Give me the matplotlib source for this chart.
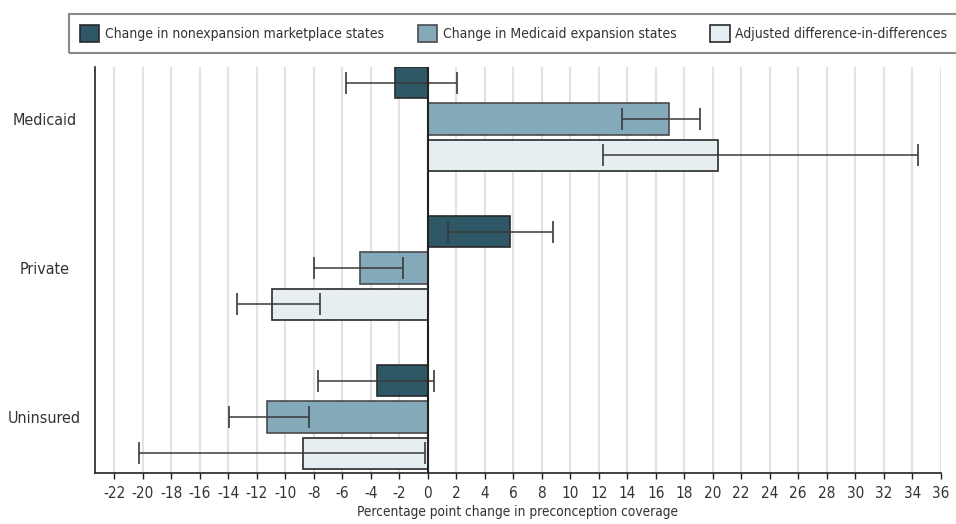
import matplotlib
matplotlib.use('Agg')
import matplotlib.pyplot as plt
from matplotlib import font_manager
from matplotlib.patches import Patch, Rectangle
import numpy as np

categories = ['Medicaid', 'Private', 'Uninsured']
series = ['Change in nonexpansion marketplace states',
          'Change in Medicaid expansion states',
          'Adjusted difference-in-differences']

nonexp = [-2.3, 5.75, -3.55]
nonexp_lo = [-5.7, 1.45, -7.7]
nonexp_hi = [2.05, 8.8, 0.45]

expansion = [16.9, -4.75, -11.25]
expansion_lo = [13.6, -7.95, -13.95]
expansion_hi = [19.1, -1.7, -8.35]

adjusted = [20.4, -10.9, -8.75]
adjusted_lo = [12.3, -13.4, -20.25]
adjusted_hi = [34.4, -7.55, -0.2]

xticks = list(range(-22, 37, 2))

# a narrow face if one is around, otherwise plain DejaVu at a smaller size
cond = font_manager.findfont(font_manager.FontProperties(family='DejaVu Sans', stretch='condensed'))
plt.rcParams['font.family'] = ['DejaVu Sans']
if 'Condensed' in cond:
    plt.rcParams['font.stretch'] = 'condensed'
    scale = 1.0
else:
    scale = 0.87

colors = ['#2e5866', '#84a9b8', '#e7eef2']
edges = ['#2a2a2a', '#4a4a4a', '#2a2a2a']
text_col = '#333333'

fig = plt.figure(figsize=(9.56, 5.24), dpi=100)
ax = fig.add_axes([94.7 / 956, 1 - 473.3 / 524, 846 / 956, (473.3 - 66.7) / 524])

y = np.arange(len(categories))
offset = 0.244
height = 0.212
data = [(nonexp, nonexp_lo, nonexp_hi),
        (expansion, expansion_lo, expansion_hi),
        (adjusted, adjusted_lo, adjusted_hi)]

for i, (vals, lo, hi) in enumerate(data):
    vals = np.array(vals)
    pos = y + (i - 1) * offset
    ax.barh(pos, vals, height=height, color=colors[i], edgecolor=edges[i],
            linewidth=1.2, zorder=3, label=series[i])
    err = [vals - np.array(lo), np.array(hi) - vals]
    ax.errorbar(vals, pos, xerr=err, fmt='none', ecolor='#3a3a3a',
                elinewidth=1.1, capsize=8, capthick=1.2, zorder=4)

ax.axvline(0, color='#222222', lw=1.5, zorder=5)

ax.set_xlim(-23.37, 36)
ax.set_ylim(2.378, -0.351)
ax.set_xticks(xticks)
ax.set_xticklabels([str(t) for t in xticks], fontsize=11 * scale, color=text_col)
ax.set_yticks(y)
ax.set_yticklabels(categories, fontsize=11.5 * scale, color=text_col, ha='center')
ax.tick_params(axis='y', length=0, pad=36)
ax.tick_params(axis='x', length=4, width=1, color='#222222', pad=5)
ax.grid(axis='x', color='#e2e2e2', lw=1.5, zorder=0)
ax.set_axisbelow(True)
for s in ['top', 'right']:
    ax.spines[s].set_visible(False)
for s in ['left', 'bottom']:
    ax.spines[s].set_color('#222222')
    ax.spines[s].set_linewidth(1.2)
ax.set_xlabel('Percentage point change in preconception coverage',
              fontsize=9.8 * scale, color=text_col, labelpad=3)

# legend box
fig.patches.append(Rectangle((69.3 / 956, 1 - 53.3 / 524), (960 - 69.3) / 956,
                             (53.3 - 13.7) / 524, transform=fig.transFigure,
                             fill=False, edgecolor='#8a8a8a', lw=1.5))
handles = [Patch(facecolor=colors[i], edgecolor=edges[i], lw=1.2) for i in range(3)]
leg = fig.legend(handles, series, loc='center left',
                 bbox_to_anchor=(74 / 956, 1 - 33.5 / 524), ncol=3, frameon=False,
                 fontsize=10 * scale, handlelength=1.4 / scale, handleheight=1.4 / scale,
                 handletextpad=0.4, columnspacing=2.45, borderaxespad=0)
for t in leg.get_texts():
    t.set_color(text_col)

fig.savefig('out.png', dpi=100)
